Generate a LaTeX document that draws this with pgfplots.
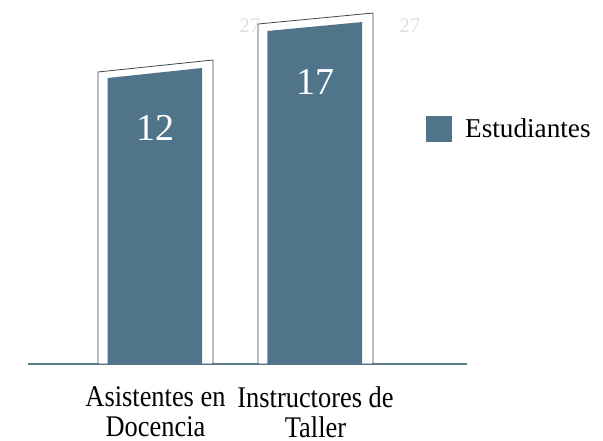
\documentclass[border=0pt]{standalone}
\usepackage{fontspec}
\setmainfont{Liberation Serif}
\newfontfamily\tickfont{Liberation Serif}[FakeStretch=0.88]
\usepackage{pgfplots}
\pgfplotsset{compat=1.18}
\definecolor{barcol}{HTML}{50758A}
\definecolor{basecol}{HTML}{5B7D90}
\definecolor{framecol}{HTML}{3C4850}
\begin{document}
\begin{tikzpicture}
\path[use as bounding box] (0,0) rectangle (603pt,440pt);
\begin{axis}[
    at={(28pt,76pt)}, anchor=south west,
    scale only axis, width=439pt, height=364pt,
    xmin=-0.797, xmax=1.947,
    ymin=-19.29, ymax=19.85,
    axis x line=bottom, axis y line=none,
    x axis line style={-, basecol, line width=2pt},
    xtick={0,1},
    xticklabels={{Asistentes en\\Docencia},{Instructores de\\Taller}},
    xticklabel style={align=center, inner sep=0pt, yshift=-22pt,
        font=\tickfont\fontsize{30}{30.5}\selectfont},
    major tick length=0pt,
    ytick=\empty,
    clip=false,
    /pgf/number format/assume math mode=true,
    legend style={at={(rel axis cs:0.9066,0.6456)}, anchor=west,
        draw=none, fill=none, inner sep=0pt,
        font=\fontsize{27.2}{28}\selectfont},
    legend cell align=left,
]
% faint leftover labels
\node[text=black!12, font=\fontsize{21}{21}\selectfont] at (axis cs:0.59,17.05) {27};
\node[text=black!12, font=\fontsize{21}{21}\selectfont] at (axis cs:1.59,17.05) {27};

% white frames
\addplot[fill=white, draw=framecol, line width=0.8pt, forget plot]
    coordinates {(-0.359,-19.29) (-0.359,12.11) (0.359,13.40) (0.359,-19.29)} -- cycle;
\addplot[fill=white, draw=framecol, line width=0.8pt, forget plot]
    coordinates {(0.641,-19.29) (0.641,17.27) (1.359,18.45) (1.359,-19.29)} -- cycle;

% bars
\addplot[fill=barcol, draw=none,
    legend image code/.code={\fill[barcol] (0pt,-13pt) rectangle (26pt,13pt);
        \path (37pt,0pt);}]
    coordinates {(-0.30,-19.29) (-0.30,11.46) (0.292,12.54) (0.292,-19.29)} -- cycle;
\addlegendentry{Estudiantes}
\addplot[fill=barcol, draw=none, forget plot]
    coordinates {(0.70,-19.29) (0.70,16.52) (1.292,17.48) (1.292,-19.29)} -- cycle;

% values
\addplot[draw=none, mark=none, forget plot, nodes near coords,
    every node near coord/.append style={anchor=center, yshift=-55pt,
        text=white, font=\fontsize{38}{38}\selectfont}]
    coordinates {(0,12) (1,17)};
\end{axis}
\end{tikzpicture}
\end{document}
